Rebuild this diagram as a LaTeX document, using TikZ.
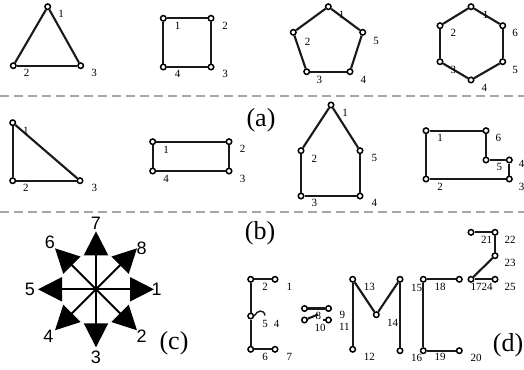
\documentclass[tikz,border=0pt]{standalone}
\usepackage{fontspec}
\setmainfont{Liberation Serif}
\newfontfamily\arialf{Liberation Sans}
\usetikzlibrary{arrows.meta,calc}
\begin{document}
\begin{tikzpicture}[x=1pt,y=-1pt,
 vtx/.style={circle,draw,fill=white,inner sep=0pt,minimum size=5.5pt,line width=1.5pt},
 edge/.style={line width=2.1pt,black!90},
 thin edge/.style={line width=1.4pt,black!90},
 lbl/.style={inner sep=0pt,font=\fontsize{11}{11}\selectfont},
 big/.style={inner sep=0pt,font=\fontsize{26}{28}\selectfont},
 clbl/.style={inner sep=0pt,font=\arialf\fontsize{18}{18}\selectfont},
 sep/.style={black!35,line width=1.6pt,dash pattern=on 9pt off 5pt},
 arr/.style={line width=2pt,-{Triangle[length=24pt,width=24pt]}}]
\useasboundingbox (0,0) rectangle (524,369);
\fill[white] (0,0) rectangle (524,369);
% separators
\draw[sep] (0,96) -- (524,96);
\draw[sep] (0,211.7) -- (524,211.7);
% (a) triangle
\node[vtx] (a1) at (47.7,6.7) {}; \node[vtx] (a2) at (13.3,65.7) {}; \node[vtx] (a3) at (80.7,65.7) {};
\draw[edge] (a1) -- (a2); \draw[edge] (a2) -- (a3); \draw[edge] (a3) -- (a1);
\node[lbl] (la1) at (61,14) {1}; \node[lbl] (la2) at (26.7,73) {2}; \node[lbl] (la3) at (94,73) {3};
% square
\node[vtx] (b1) at (163.3,18.3) {}; \node[vtx] (b2) at (211,18.3) {}; \node[vtx] (b3) at (211,67) {}; \node[vtx] (b4) at (163.3,67) {};
\draw[edge] (b1) -- (b2); \draw[edge] (b2) -- (b3); \draw[edge] (b3) -- (b4); \draw[edge] (b4) -- (b1);
\node[lbl] (lb1) at (177.7,26) {1}; \node[lbl] (lb2) at (225,26) {2}; \node[lbl] (lb3) at (225,74) {3}; \node[lbl] (lb4) at (177.7,74) {4};
% pentagon
\node[vtx] (c1) at (328.3,6.7) {}; \node[vtx] (c2) at (293.3,32.3) {}; \node[vtx] (c3) at (306.7,71.7) {}; \node[vtx] (c4) at (350,71.7) {}; \node[vtx] (c5) at (362.7,32.3) {};
\draw[edge] (c1) -- (c2); \draw[edge] (c2) -- (c3); \draw[edge] (c3) -- (c4); \draw[edge] (c4) -- (c5); \draw[edge] (c5) -- (c1);
\node[lbl] (lc1) at (341.7,15) {1}; \node[lbl] (lc2) at (307.7,42.3) {2}; \node[lbl] (lc3) at (319.3,80) {3}; \node[lbl] (lc4) at (363.3,80) {4}; \node[lbl] (lc5) at (376,41) {5};
% hexagon
\node[vtx] (d1) at (471,6.7) {}; \node[vtx] (d2) at (440,25.7) {}; \node[vtx] (d3) at (440,61.7) {}; \node[vtx] (d4) at (471,80) {}; \node[vtx] (d5) at (502.7,61.7) {}; \node[vtx] (d6) at (502.7,25.7) {};
\draw[edge] (d1) -- (d2); \draw[edge] (d2) -- (d3); \draw[edge] (d3) -- (d4); \draw[edge] (d4) -- (d5); \draw[edge] (d5) -- (d6); \draw[edge] (d6) -- (d1);
\node[lbl] (ld1) at (485.7,15) {1}; \node[lbl] (ld2) at (453.3,33.3) {2}; \node[lbl] (ld3) at (453.3,70) {3}; \node[lbl] (ld4) at (484.3,88.3) {4}; \node[lbl] (ld5) at (515,70) {5}; \node[lbl] (ld6) at (515,33.3) {6};
\node[big] (cap-a) at (261,120) {(a)};
% (b) right triangle
\node[vtx] (e1) at (12.7,122.7) {}; \node[vtx] (e2) at (12.7,180.7) {}; \node[vtx] (e3) at (80,180.7) {};
\draw[edge] (e1) -- (e2); \draw[edge] (e2) -- (e3); \draw[edge] (e3) -- (e1);
\node[lbl] (le1) at (26,130.7) {1}; \node[lbl] (le2) at (26,188.3) {2}; \node[lbl] (le3) at (94.3,188.3) {3};
% rectangle
\node[vtx] (f1) at (152.7,141.7) {}; \node[vtx] (f2) at (229,141.7) {}; \node[vtx] (f3) at (229,171) {}; \node[vtx] (f4) at (152.7,171) {};
\draw[edge] (f1) -- (f2); \draw[edge] (f2) -- (f3); \draw[edge] (f3) -- (f4); \draw[edge] (f4) -- (f1);
\node[lbl] (lf1) at (166,150) {1}; \node[lbl] (lf2) at (242.7,149.3) {2}; \node[lbl] (lf3) at (242.7,179) {3}; \node[lbl] (lf4) at (166,179) {4};
% house
\node[vtx] (g1) at (331,105) {}; \node[vtx] (g2) at (301,150.7) {}; \node[vtx] (g3) at (301,196) {}; \node[vtx] (g4) at (360,196) {}; \node[vtx] (g5) at (360,150.7) {};
\draw[edge] (g1) -- (g2); \draw[edge] (g2) -- (g3); \draw[edge] (g3) -- (g4); \draw[edge] (g4) -- (g5); \draw[edge] (g5) -- (g1);
\node[lbl] (lg1) at (345,112.7) {1}; \node[lbl] (lg2) at (314.3,159) {2}; \node[lbl] (lg3) at (314.3,202.7) {3}; \node[lbl] (lg4) at (374.3,202.7) {4}; \node[lbl] (lg5) at (374.3,158.3) {5};
% L shape
\node[vtx] (h1) at (426,130.7) {}; \node[vtx] (h2) at (426,179) {}; \node[vtx] (h3) at (509.3,179) {}; \node[vtx] (h4) at (509.3,160) {}; \node[vtx] (h5) at (486,160) {}; \node[vtx] (h6) at (486,130.7) {};
\draw[edge] (h1) -- (h2); \draw[edge] (h2) -- (h3); \draw[edge] (h3) -- (h4); \draw[edge] (h4) -- (h5); \draw[edge] (h5) -- (h6); \draw[edge] (h6) -- (h1);
\node[lbl] (lh1) at (440,138.3) {1}; \node[lbl] (lh2) at (440,186.7) {2}; \node[lbl] (lh3) at (521.7,186.7) {3}; \node[lbl] (lh4) at (521.7,164) {4}; \node[lbl] (lh5) at (499.3,167.3) {5}; \node[lbl] (lh6) at (498.3,138.3) {6};
\node[big] (cap-b) at (260,233) {(b)};
% (c) compass
\coordinate (o) at (96,289.3);
\foreach \k in {1,...,8} {
  \coordinate (t\k) at ($(o)+({-(\k-1)*45}:58pt)$);
  \draw[arr] (o) -- (t\k);
}
\node[clbl] (n1) at (156.7,289.3) {1};
\node[clbl] (n2) at (141.7,336) {2};
\node[clbl] (n3) at (96,357.7) {3};
\node[clbl] (n4) at (48.3,336.7) {4};
\node[clbl] (n5) at (30,289.3) {5};
\node[clbl] (n6) at (50,242.7) {6};
\node[clbl] (n7) at (96,223.3) {7};
\node[clbl] (n8) at (141.7,248.3) {8};
\node[big] (cap-c) at (174,343) {(c)};
% (d) E
\node[vtx] (E1) at (275,279.3) {}; \node[vtx] (E2) at (250.7,279.3) {};
\node[vtx] (E5) at (250.7,316) {}; \coordinate (E4) at (265,315.5);
\node[vtx] (E6) at (250.7,349.3) {}; \node[vtx] (E7) at (275,349.3) {};
\draw[edge] (E1) -- (E2); \draw[edge] (E2) -- (E5); \draw[edge] (E5) -- (E6); \draw[edge] (E6) -- (E7);
\draw[thin edge] (E5.east) .. controls (257,310) and (264,309) .. (E4);
\node[lbl] (lE1) at (289.3,287.3) {1}; \node[lbl] (lE2) at (265,287.3) {2};
\node[lbl] (lE5) at (265,324.3) {5}; \node[lbl] (lE4) at (276.7,324.3) {4};
\node[lbl] (lE6) at (265,357.3) {6}; \node[lbl] (lE7) at (289.3,357.3) {7};
% =
\node[vtx] (Q8) at (304.5,308.5) {}; \node[vtx] (Q9) at (328.5,308.5) {};
\node[vtx] (Q10) at (304.5,320) {}; \node[vtx] (Q11) at (328.5,320) {};
\coordinate (Q8b) at (318,314.5); \coordinate (Q11b) at (323,320);
\draw[edge] (Q8) -- (Q9); \draw[edge] (Q10) -- (Q8b); \draw[thin edge] (Q11) -- (Q11b);
\node[lbl] (lQ8) at (318.3,316) {8}; \node[lbl] (lQ9) at (342.3,315) {9};
\node[lbl] (lQ10) at (320,328.3) {10}; \node[lbl] (lQ11) at (344.3,327.3) {11};
% M
\node[vtx] (M13) at (352.7,279.3) {}; \node[vtx] (M12) at (352.7,349.3) {};
\node[vtx] (Mv) at (376.3,314.7) {}; \node[vtx] (M14t) at (400,279.3) {}; \node[vtx] (M14b) at (400,350.7) {};
\draw[edge] (M12) -- (M13); \draw[edge] (M13) -- (Mv); \draw[edge] (Mv) -- (M14t); \draw[edge] (M14t) -- (M14b);
\node[lbl] (lM13) at (369.3,287.3) {13}; \node[lbl] (lM12) at (369.3,356.7) {12}; \node[lbl] (lM14) at (392.7,322.7) {14};
% C
\node[vtx] (C15) at (423.3,279.3) {}; \node[vtx] (C18) at (459.3,279.3) {};
\node[vtx] (C16) at (423.3,350.7) {}; \node[vtx] (C20) at (459.3,350.7) {};
\draw[edge] (C18) -- (C15); \draw[edge] (C15) -- (C16); \draw[edge] (C16) -- (C20);
\node[lbl] (lC15) at (416.7,287.7) {15}; \node[lbl] (lC18) at (440,286.7) {18};
\node[lbl] (lC16) at (416.7,358.3) {16}; \node[lbl] (lC19) at (440,357.3) {19}; \node[lbl] (lC20) at (476,358.3) {20};
% 2
\node[vtx] (S21) at (471,232.3) {}; \node[vtx] (S22) at (495,232.3) {}; \node[vtx] (S23) at (495,255.7) {};
\node[vtx] (S17) at (471,279.3) {}; \node[vtx] (S25) at (495,279.3) {};
\draw[edge] (S21) -- (S22); \draw[edge] (S22) -- (S23); \draw[edge] (S23) -- (S17); \draw[edge] (S17) -- (S25);
\node[lbl] (lS21) at (486.7,240) {21}; \node[lbl] (lS22) at (510,240) {22}; \node[lbl] (lS23) at (510,262.7) {23};
\node[lbl] (lS1724) at (481.7,286.7) {1724}; \node[lbl] (lS25) at (510,286.7) {25};
\node[big] (cap-d) at (508,345) {(d)};
\end{tikzpicture}
\end{document}
